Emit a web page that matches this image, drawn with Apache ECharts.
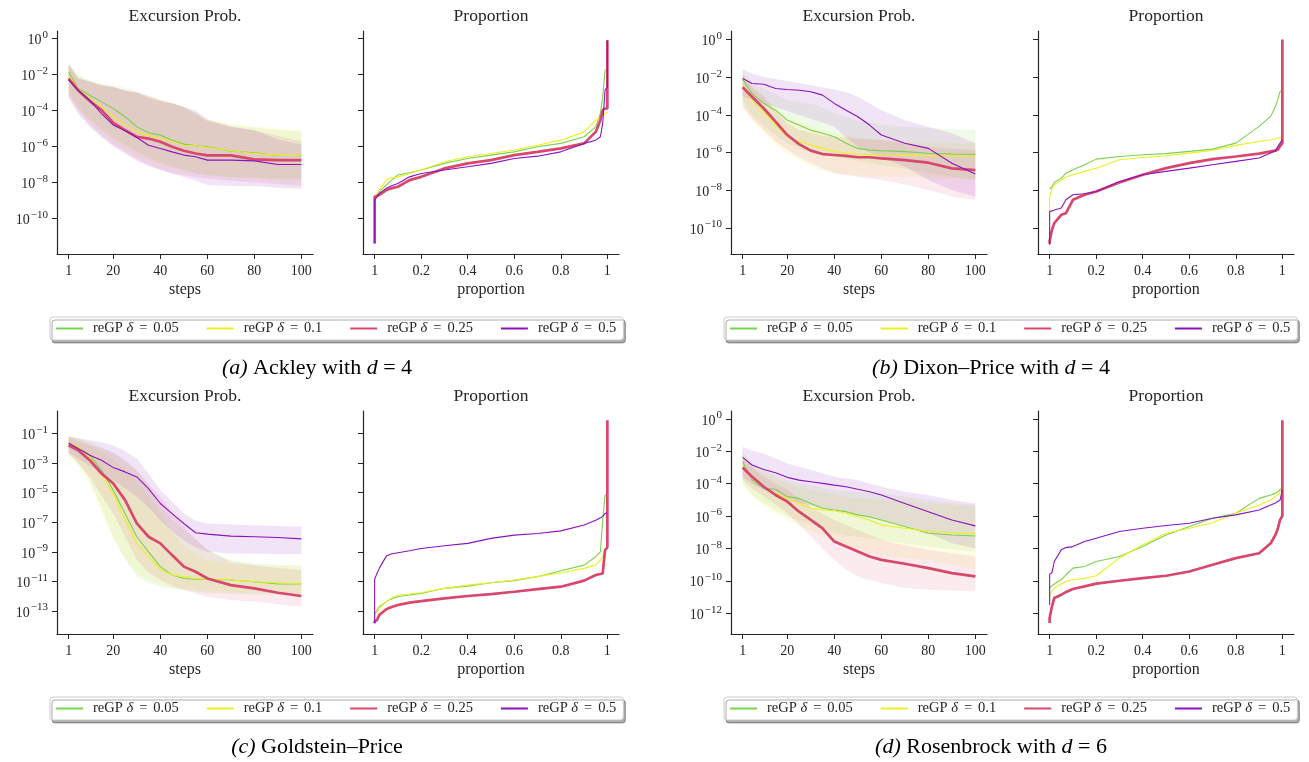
<!DOCTYPE html>
<html><head><meta charset="utf-8">
<script src="https://cdn.jsdelivr.net/npm/echarts@6/dist/echarts.min.js"></script>
<style>html,body{margin:0;padding:0;background:#fff}#c{width:1309px;height:762px}</style>
</head><body><div id="c"></div>
<script>
// ---------- shared axes / labels ----------
const STEPS = [1,5,10,15,20,25,30,35,40,45,50,55,60,70,80,90,100];
const PROP  = [0,0,0.01,0.02,0.05,0.07,0.1,0.15,0.2,0.3,0.4,0.5,0.6,0.7,0.8,0.9,0.95,0.97,0.98,0.99,1,1];
const NAMES = ['reGP δ = 0.05','reGP δ = 0.1','reGP δ = 0.25','reGP δ = 0.5'];
const STEP_TICKS = [1,20,40,60,80,100];
const PROP_TICKS = [0,0.2,0.4,0.6,0.8,1];
const PROP_TICK_LABELS = ['1','0.2','0.4','0.6','0.8','1'];
const YT_A = [-10,-8,-6,-4,-2,0];
const YT_B = [-10,-8,-6,-4,-2,0];
const YT_C = [-13,-11,-9,-7,-5,-3,-1];
const YT_D = [-12,-10,-8,-6,-4,-2,0];
const TITLE_L = 'Excursion Prob.';
const TITLE_R = 'Proportion';
const CAPTIONS = ['{i|(a)} Ackley with {i|d} = 4','{i|(b)} Dixon–Price with {i|d} = 4','{i|(c)} Goldstein–Price','{i|(d)} Rosenbrock with {i|d} = 6'];

// values are log10 of the excursion probability
// ---------- (a) Ackley ----------
const a_g = [-1.85,-2.78,-3.15,-3.52,-3.89,-4.35,-4.9,-5.24,-5.37,-5.65,-5.87,-5.96,-6.02,-6.26,-6.35,-6.5,-6.52];
const a_y = [-2.04,-2.78,-3.33,-3.8,-4.35,-4.81,-5.19,-5.37,-5.56,-5.74,-5.93,-5.96,-6.06,-6.24,-6.39,-6.48,-6.52];
const a_r = [-2.22,-2.87,-3.48,-3.98,-4.69,-5.09,-5.46,-5.56,-5.74,-6.02,-6.24,-6.39,-6.5,-6.5,-6.72,-6.76,-6.76];
const a_p = [-2.31,-2.87,-3.43,-4.17,-4.81,-5.13,-5.5,-5.93,-6.11,-6.3,-6.48,-6.57,-6.76,-6.76,-6.8,-7.0,-7.0];
const a_g_up = [-1.3,-2.0,-2.3,-2.5,-2.6,-2.75,-2.95,-3.2,-3.4,-3.6,-3.8,-4.1,-4.5,-4.8,-4.95,-5.1,-5.15];
const a_g_lo = [-3.0,-3.8,-4.5,-5.0,-5.5,-5.9,-6.3,-6.6,-6.9,-7.1,-7.3,-7.5,-7.6,-7.7,-7.75,-7.8,-7.8];
const a_y_up = [-1.4,-2.1,-2.35,-2.55,-2.7,-2.85,-3.0,-3.2,-3.4,-3.6,-3.8,-4.2,-4.5,-4.75,-4.9,-5.0,-5.1];
const a_y_lo = [-3.1,-3.9,-4.6,-5.2,-5.7,-6.1,-6.5,-6.8,-7.0,-7.2,-7.4,-7.5,-7.6,-7.7,-7.8,-7.9,-7.9];
const a_r_up = [-1.5,-2.2,-2.4,-2.6,-2.7,-2.9,-3.0,-3.2,-3.4,-3.6,-3.8,-4.2,-4.6,-4.9,-5.1,-5.4,-5.7];
const a_r_lo = [-3.2,-4.0,-4.8,-5.4,-5.9,-6.3,-6.7,-7.0,-7.3,-7.5,-7.6,-7.7,-7.8,-7.9,-8.0,-8.1,-8.2];
const a_p_up = [-1.4,-2.2,-2.4,-2.6,-2.7,-2.9,-3.0,-3.3,-3.5,-3.6,-3.8,-4.0,-4.5,-4.9,-5.1,-5.6,-5.9];
const a_p_lo = [-3.3,-4.2,-4.9,-5.5,-6.0,-6.4,-6.8,-7.1,-7.3,-7.5,-7.7,-7.9,-8.15,-8.2,-8.2,-8.3,-8.35];
const ar_g = [-9.0,-8.9,-8.75,-8.52,-8.15,-7.9,-7.59,-7.46,-7.31,-6.94,-6.67,-6.48,-6.3,-6.02,-5.83,-5.46,-4.91,-4.17,-3.24,-1.76,-1.7,-1.7];
const ar_y = [-8.9,-8.8,-8.6,-8.43,-7.87,-7.75,-7.69,-7.5,-7.31,-6.85,-6.57,-6.39,-6.2,-5.93,-5.65,-5.19,-4.54,-4.44,-4.3,-4.17,-4.1,-4.1];
const ar_r = [-11.39,-8.8,-8.75,-8.7,-8.43,-8.33,-8.24,-7.87,-7.69,-7.22,-6.94,-6.76,-6.48,-6.3,-6.11,-5.83,-5.19,-4.54,-3.98,-3.89,-3.89,-0.09];
const ar_p = [-11.39,-8.98,-8.8,-8.61,-8.33,-8.2,-8.06,-7.69,-7.5,-7.31,-7.13,-6.94,-6.67,-6.54,-6.3,-5.83,-5.65,-5.46,-4.72,-2.87,-2.69,-0.09];

// ---------- (b) Dixon-Price ----------
const b_g = [-2.12,-2.86,-3.39,-3.75,-4.28,-4.54,-4.81,-4.98,-5.16,-5.51,-5.78,-5.87,-5.9,-5.95,-6.04,-6.08,-6.1];
const b_y = [-2.47,-3.22,-3.83,-4.54,-5.16,-5.42,-5.6,-5.78,-5.95,-6.04,-6.08,-6.1,-6.13,-6.15,-6.18,-6.18,-6.2];
const b_r = [-2.54,-3.04,-3.66,-4.36,-5.07,-5.55,-5.9,-6.08,-6.13,-6.18,-6.25,-6.25,-6.31,-6.4,-6.54,-6.84,-6.93];
const b_p = [-2.07,-2.33,-2.37,-2.6,-2.65,-2.69,-2.77,-2.95,-3.39,-3.75,-4.1,-4.54,-5.07,-5.51,-5.78,-6.57,-7.14];
const b_g_up = [-1.71,-2.3,-2.6,-2.9,-3.2,-3.3,-3.4,-3.6,-3.9,-4.1,-4.28,-4.4,-4.5,-4.63,-4.7,-4.75,-4.81];
const b_g_lo = [-3.22,-4.0,-4.6,-5.1,-5.51,-5.8,-6.0,-6.1,-6.22,-6.35,-6.45,-6.55,-6.66,-6.85,-7.1,-7.3,-7.46];
const b_y_up = [-1.8,-2.6,-3.1,-3.6,-4.1,-4.4,-4.6,-4.8,-4.98,-5.1,-5.2,-5.3,-5.34,-5.4,-5.45,-5.5,-5.51];
const b_y_lo = [-3.57,-4.3,-5.0,-5.6,-6.04,-6.4,-6.75,-6.95,-7.1,-7.15,-7.2,-7.25,-7.28,-7.3,-7.35,-7.4,-7.45];
const b_r_up = [-1.89,-2.5,-3.0,-3.8,-4.45,-4.8,-4.95,-5.1,-5.16,-5.2,-5.25,-5.3,-5.34,-5.5,-5.69,-5.8,-5.87];
const b_r_lo = [-3.57,-4.2,-4.8,-5.4,-5.87,-6.25,-6.57,-6.85,-7.1,-7.2,-7.28,-7.38,-7.46,-7.7,-7.99,-8.34,-8.52];
const b_p_up = [-1.57,-1.8,-1.98,-2.1,-2.2,-2.3,-2.42,-2.55,-2.65,-2.8,-3.04,-3.4,-3.75,-4.28,-4.63,-4.98,-5.51];
const b_p_lo = [-3.04,-3.2,-3.4,-3.6,-3.8,-4.0,-4.2,-4.4,-4.63,-5.2,-5.69,-6.0,-6.22,-6.75,-7.46,-7.99,-8.34];
const br_g = [-7.94,-7.94,-7.8,-7.59,-7.36,-7.1,-6.91,-6.65,-6.35,-6.21,-6.12,-6.06,-5.94,-5.82,-5.5,-4.61,-4.08,-3.55,-3.19,-2.75,-2.7,-2.7];
const br_y = [-9.57,-8.4,-7.89,-7.71,-7.45,-7.3,-7.18,-7.0,-6.83,-6.38,-6.26,-6.17,-6.03,-5.89,-5.62,-5.41,-5.32,-5.27,-5.24,-5.2,-5.14,-5.14];
const br_r = [-10.85,-10.7,-10.1,-9.75,-9.31,-9.22,-8.51,-8.24,-8.07,-7.59,-7.18,-6.83,-6.56,-6.35,-6.21,-6.06,-5.94,-5.9,-5.85,-5.67,-5.5,0.0];
const br_p = [-10.9,-9.13,-9.1,-9.05,-8.95,-8.51,-8.24,-8.19,-8.07,-7.54,-7.18,-7.0,-6.83,-6.65,-6.47,-6.29,-6.03,-5.9,-5.7,-5.5,-5.32,-5.32];

// ---------- (c) Goldstein-Price ----------
const c_g = [-1.68,-1.9,-2.46,-3.48,-4.83,-6.41,-7.98,-9.0,-10.0,-10.57,-10.8,-10.86,-10.86,-10.91,-11.02,-11.18,-11.18];
const c_y = [-1.63,-1.9,-2.58,-3.82,-5.05,-6.86,-8.43,-9.33,-10.19,-10.57,-10.68,-10.8,-10.86,-10.91,-11.02,-11.09,-11.18];
const c_r = [-1.79,-2.13,-2.8,-3.7,-4.38,-5.5,-7.08,-7.98,-8.43,-9.22,-10.0,-10.35,-10.8,-11.25,-11.47,-11.77,-11.99];
const c_p = [-1.63,-2.01,-2.46,-2.8,-3.3,-3.59,-3.93,-4.72,-5.73,-6.41,-7.08,-7.71,-7.8,-7.94,-7.98,-8.03,-8.12];
const c_g_up = [-1.11,-1.3,-1.6,-1.9,-2.35,-2.8,-3.48,-4.6,-5.95,-6.8,-7.53,-8.21,-8.88,-9.56,-9.78,-9.85,-9.9];
const c_g_lo = [-2.35,-3.0,-4.15,-6.0,-7.98,-9.5,-10.68,-11.1,-11.36,-11.5,-11.59,-11.7,-11.81,-11.85,-11.88,-11.9,-11.92];
const c_y_up = [-1.11,-1.35,-1.7,-2.2,-2.8,-3.4,-4.15,-5.2,-6.41,-7.6,-8.66,-9.2,-9.56,-9.8,-9.9,-9.95,-10.0];
const c_y_lo = [-2.46,-3.2,-4.38,-6.3,-8.21,-9.5,-10.46,-10.9,-11.25,-11.4,-11.5,-11.6,-11.65,-11.7,-11.75,-11.8,-11.81];
const c_r_up = [-1.23,-1.5,-1.8,-2.0,-2.24,-2.8,-3.48,-4.4,-5.28,-6.3,-7.31,-8.1,-8.88,-9.67,-9.9,-10.1,-10.23];
const c_r_lo = [-2.4,-3.0,-3.93,-5.2,-6.41,-8.0,-9.56,-10.4,-10.91,-11.3,-11.59,-11.8,-12.04,-12.26,-12.37,-12.55,-12.71];
const c_p_up = [-1.23,-1.3,-1.45,-1.6,-1.8,-2.2,-2.69,-3.7,-4.83,-5.6,-6.41,-6.9,-7.08,-7.15,-7.2,-7.25,-7.31];
const c_p_lo = [-2.24,-2.7,-3.2,-3.7,-4.15,-4.7,-5.28,-6.0,-6.86,-7.6,-8.21,-8.7,-9.0,-9.11,-9.13,-9.14,-9.15];
const cr_g = [-13.5,-13.2,-12.94,-12.71,-12.37,-12.2,-12.04,-11.92,-11.81,-11.47,-11.32,-11.09,-10.95,-10.68,-10.28,-9.9,-9.33,-9.0,-6.86,-5.17,-5.1,-5.1];
const cr_y = [-13.5,-13.3,-13.05,-12.83,-12.37,-12.15,-11.92,-11.85,-11.77,-11.47,-11.25,-11.09,-10.91,-10.68,-10.41,-10.12,-9.9,-9.56,-9.3,-8.88,-8.8,-8.8];
const cr_r = [-13.84,-13.7,-13.61,-13.27,-12.89,-12.75,-12.6,-12.44,-12.33,-12.15,-11.99,-11.86,-11.7,-11.52,-11.36,-10.95,-10.57,-10.5,-10.46,-8.88,-8.7,-0.1];
const cr_p = [-13.84,-10.86,-10.46,-10.12,-9.29,-9.15,-9.06,-8.93,-8.77,-8.59,-8.43,-8.09,-7.87,-7.76,-7.58,-7.19,-6.86,-6.7,-6.6,-6.41,-6.35,-6.35];

// ---------- (d) Rosenbrock ----------
const d_g = [-2.65,-3.78,-4.29,-4.35,-4.8,-4.91,-5.22,-5.52,-5.63,-5.73,-5.93,-6.04,-6.24,-6.65,-7.06,-7.17,-7.23];
const d_y = [-2.85,-3.68,-4.19,-4.6,-4.91,-5.22,-5.52,-5.63,-5.67,-5.83,-6.04,-6.24,-6.55,-6.76,-6.96,-7.02,-7.1];
const d_r = [-3.0,-3.57,-4.19,-4.7,-5.11,-5.73,-6.24,-6.76,-7.58,-7.89,-8.19,-8.5,-8.71,-8.95,-9.22,-9.53,-9.73];
const d_p = [-2.38,-2.85,-3.12,-3.33,-3.61,-3.78,-3.88,-3.98,-4.09,-4.19,-4.35,-4.5,-4.7,-5.22,-5.73,-6.24,-6.61];
const d_g_up = [-2.03,-2.7,-3.16,-3.5,-3.78,-3.95,-4.1,-4.25,-4.39,-4.45,-4.5,-4.55,-4.6,-4.8,-5.01,-5.2,-5.32];
const d_g_lo = [-3.98,-4.7,-5.22,-5.65,-6.04,-6.3,-6.55,-6.8,-7.06,-7.2,-7.3,-7.4,-7.47,-7.7,-7.89,-8.05,-8.19];
const d_y_up = [-2.1,-2.9,-3.37,-3.7,-3.98,-4.2,-4.4,-4.55,-4.7,-4.8,-4.9,-4.95,-5.01,-5.1,-5.22,-5.3,-5.42];
const d_y_lo = [-4.09,-4.8,-5.42,-5.85,-6.24,-6.6,-6.9,-7.2,-7.47,-7.8,-8.1,-8.3,-8.5,-8.6,-8.71,-9.0,-9.32];
const d_r_up = [-2.24,-3.0,-3.57,-4.0,-4.39,-4.9,-5.42,-5.85,-6.24,-6.55,-6.86,-7.15,-7.47,-7.8,-8.09,-8.3,-8.5];
const d_r_lo = [-3.78,-4.3,-4.8,-5.3,-5.83,-6.55,-7.27,-8.0,-8.71,-9.3,-9.73,-9.95,-10.14,-10.45,-10.55,-10.6,-10.66];
const d_p_up = [-1.72,-1.95,-2.14,-2.45,-2.75,-2.95,-3.16,-3.36,-3.57,-3.68,-3.78,-4.0,-4.19,-4.5,-4.7,-5.01,-5.22];
const d_p_lo = [-3.57,-4.0,-4.39,-4.7,-5.01,-5.2,-5.35,-5.5,-5.63,-5.8,-5.95,-6.1,-6.24,-6.6,-7.06,-7.68,-7.99];
const dr_g = [-10.45,-10.45,-10.3,-10.2,-9.94,-9.63,-9.22,-9.12,-8.81,-8.5,-7.89,-7.17,-6.65,-6.14,-5.83,-4.91,-4.7,-4.6,-4.5,-4.35,-4.3,-4.3];
const dr_y = [-10.97,-10.9,-10.6,-10.45,-10.2,-10.05,-9.94,-9.85,-9.69,-8.6,-7.78,-7.06,-6.76,-6.41,-5.83,-5.32,-5.01,-4.8,-4.7,-4.5,-4.4,-4.4];
const dr_r = [-12.61,-12.3,-11.58,-11.07,-10.86,-10.7,-10.51,-10.35,-10.18,-10.0,-9.84,-9.69,-9.43,-9.01,-8.6,-8.3,-7.68,-7.17,-6.8,-6.24,-6.0,-0.08];
const dr_p = [-11.5,-9.59,-9.5,-8.81,-8.09,-7.95,-7.89,-7.58,-7.37,-6.96,-6.76,-6.59,-6.45,-6.14,-5.93,-5.63,-5.32,-5.2,-5.1,-5.01,-4.39,-4.39];

// ---------- assemble ----------
const PANEL_DATA = [
  {mean:[a_g,a_y,a_r,a_p], up:[a_g_up,a_y_up,a_r_up,a_p_up], lo:[a_g_lo,a_y_lo,a_r_lo,a_p_lo], prop:[ar_g,ar_y,ar_r,ar_p], yt:YT_A},
  {mean:[b_g,b_y,b_r,b_p], up:[b_g_up,b_y_up,b_r_up,b_p_up], lo:[b_g_lo,b_y_lo,b_r_lo,b_p_lo], prop:[br_g,br_y,br_r,br_p], yt:YT_B},
  {mean:[c_g,c_y,c_r,c_p], up:[c_g_up,c_y_up,c_r_up,c_p_up], lo:[c_g_lo,c_y_lo,c_r_lo,c_p_lo], prop:[cr_g,cr_y,cr_r,cr_p], yt:YT_C},
  {mean:[d_g,d_y,d_r,d_p], up:[d_g_up,d_y_up,d_r_up,d_p_up], lo:[d_g_lo,d_y_lo,d_r_lo,d_p_lo], prop:[dr_g,dr_y,dr_r,dr_p], yt:YT_D}
];
const LAYOUT = [
  {lx:57,  rx:363,  top:31,  ymin:-11.98, ymax:0.42,  cx:317, cy:368, legX:50,  legY:317},
  {lx:731, rx:1038, top:31,  ymin:-11.39, ymax:0.456, cx:991, cy:368, legX:724, legY:317},
  {lx:57,  rx:363,  top:411, ymin:-14.56, ymax:0.53,  cx:317, cy:747, legX:50,  legY:697},
  {lx:731, rx:1038, top:411, ymin:-13.29, ymax:0.49,  cx:991, cy:747, legX:724, legY:697}
];
const GW = 256, GH = 223;
const F = "'Liberation Serif', 'DejaVu Serif', serif";
const INK = '#262626';
const COLORS = ['#78d24f','#edef1e','#d8476c','#8b12bd'];
const BANDS = ['rgba(120,210,79,0.115)','rgba(237,239,30,0.115)','rgba(216,71,108,0.115)','rgba(139,18,189,0.115)'];
const WIDTHS = [1.1,1.1,2.7,1.1];

const grids = [], xAxes = [], yAxes = [], series = [], titles = [], legends = [], graphics = [];
const supLabel = v => { const n = Math.round(v); return '{b|10}{s|' + (n < 0 ? '\u2212' : '') + Math.abs(n) + '}'; };
const yRich = { b:{fontFamily:F, fontSize:14, color:INK, lineHeight:18, verticalAlign:'bottom'}, s:{fontFamily:F, fontSize:11, color:INK, lineHeight:11, verticalAlign:'top', padding:[0,0,0,1]} };

function bandRenderer(up, lo, fill) {
  return function (params, api) {
    if (params.dataIndex !== 0) return null;
    const pts = [];
    for (let k = 0; k < STEPS.length; k++) pts.push(api.coord([STEPS[k], up[k]]));
    for (let k = STEPS.length - 1; k >= 0; k--) pts.push(api.coord([STEPS[k], lo[k]]));
    return {type:'polygon', shape:{points:pts}, style:{fill:fill}, silent:true};
  };
}

LAYOUT.forEach((L, i) => {
  const P = PANEL_DATA[i];
  [0,1].forEach(side => {
    const gi = grids.length;
    const left = side === 0 ? L.lx : L.rx;
    grids.push({left:left, top:L.top, width:GW, height:GH, containLabel:false});
    xAxes.push({
      gridIndex:gi, type:'value',
      min: side === 0 ? -3.95 : -0.05, max: side === 0 ? 104.95 : 1.05,
      name: side === 0 ? 'steps' : 'proportion', nameLocation:'middle', nameGap:28,
      nameTextStyle:{fontFamily:F, fontSize:16, color:INK},
      axisLine:{show:true, onZero:false, lineStyle:{color:INK, width:1.2}},
      axisTick:{show:true, length:5, customValues: side === 0 ? STEP_TICKS : PROP_TICKS, lineStyle:{color:INK, width:1}},
      axisLabel:{show:true, margin:10, customValues: side === 0 ? STEP_TICKS : PROP_TICKS, fontFamily:F, fontSize:14, color:INK,
        formatter: side === 0 ? (v => String(Math.round(v))) : (v => PROP_TICK_LABELS[PROP_TICKS.indexOf(Math.round(v*10)/10)])},
      splitLine:{show:false}
    });
    yAxes.push({
      gridIndex:gi, type:'value', min:L.ymin, max:L.ymax,
      axisLine:{show:true, onZero:false, lineStyle:{color:INK, width:1.2}},
      axisTick:{show:true, length:5, customValues:P.yt, lineStyle:{color:INK, width:1}},
      axisLabel:{show: side === 0, margin:9, customValues:P.yt, formatter:supLabel, rich:yRich},
      splitLine:{show:false}
    });
    titles.push({text: side === 0 ? TITLE_L : TITLE_R, left: left + GW/2, top: L.top - 24, textAlign:'center', padding:0,
      textStyle:{fontFamily:F, fontSize:17.5, fontWeight:'normal', color:INK}});
    if (side === 0) {
      for (let j = 0; j < 4; j++) {
        series.push({type:'custom', name:'band', coordinateSystem:'cartesian2d', xAxisIndex:gi, yAxisIndex:gi, clip:true, silent:true, z:1,
          encode:{x:0, y:[1,2]},
          renderItem: bandRenderer(P.up[j], P.lo[j], BANDS[j]),
          data: STEPS.map((s,k) => [s, P.lo[j][k], P.up[j][k]])});
      }
      for (let j = 0; j < 4; j++) {
        series.push({type:'line', name:NAMES[j], xAxisIndex:gi, yAxisIndex:gi, symbol:'none', z:3,
          lineStyle:{color:COLORS[j], width:WIDTHS[j]}, itemStyle:{color:COLORS[j]},
          data: STEPS.map((s,k) => [s, P.mean[j][k]])});
      }
    } else {
      for (let j = 0; j < 4; j++) {
        series.push({type:'line', name:NAMES[j], xAxisIndex:gi, yAxisIndex:gi, symbol:'none', z:3,
          lineStyle:{color:COLORS[j], width:WIDTHS[j]}, itemStyle:{color:COLORS[j]},
          data: PROP.map((p,k) => [p, P.prop[j][k]])});
      }
    }
  });
  legends.push({
    data: NAMES, left:L.legX, top:L.legY, orient:'horizontal',
    itemWidth:27, itemHeight:14, itemGap:27, padding:[4,7,4,5],
    backgroundColor:'#ffffff', borderColor:'#cccccc', borderWidth:1, borderRadius:3,
    shadowColor:'rgba(0,0,0,0.33)', shadowBlur:0, shadowOffsetX:2, shadowOffsetY:3,
    itemStyle:{opacity:0}, selectedMode:false,
    formatter: name => { const v = name.split('= ')[1]; return '{g| }{n|reGP }{d|δ}{e|=}{n|' + v + '}'; },
    textStyle:{fontFamily:F, fontSize:14.5, color:INK, rich:{
      g:{width:5}, n:{fontFamily:F, fontSize:14.5, color:INK}, d:{fontFamily:F, fontSize:14.5, fontStyle:'italic', color:INK},
      e:{fontFamily:F, fontSize:14.5, color:INK, padding:[0,6,0,6]}}}
  });
  graphics.push({type:'text', x:L.cx, y:L.cy, silent:true,
    style:{text:CAPTIONS[i], fill:'#000', fontFamily:F, fontSize:22, textAlign:'center', textVerticalAlign:'middle', align:'center', verticalAlign:'middle',
      rich:{i:{fontFamily:F, fontSize:22, fontStyle:'italic', fill:'#000'}}}});
});

const chart = echarts.init(document.getElementById('c'), null, {renderer:'canvas'});
chart.setOption({
  animation:false, backgroundColor:'#ffffff',
  title:titles, legend:legends, grid:grids, xAxis:xAxes, yAxis:yAxes, series:series, graphic:graphics
});
</script></body></html>
